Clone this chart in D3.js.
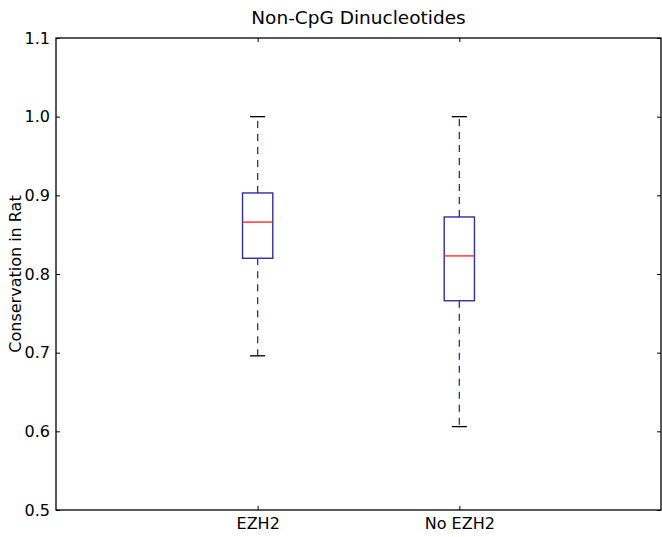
<!DOCTYPE html>
<html>
<head>
<meta charset="utf-8">
<script src="https://cdn.jsdelivr.net/npm/d3@7"></script>
<style>
  body { margin: 0; background: #fff; }
  text { font-family: "DejaVu Sans", sans-serif; fill: #000; }
</style>
</head>
<body>
<div id="chart"></div>
<script>
// data
let groups = ["EZH2", "No EZH2"];
let whiskerLow = [0.696, 0.606];
let q1 = [0.820, 0.766];
let median = [0.866, 0.823];
let q3 = [0.903, 0.8725];
let whiskerHigh = [1.0, 1.0];
let yTicks = [0.5, 0.6, 0.7, 0.8, 0.9, 1.0, 1.1];

let W = 662, H = 537;
let mLeft = 56, mRight = 661, mTop = 38, mBottom = 510;

let svg = d3.select("#chart").append("svg")
    .attr("width", W)
    .attr("height", H);

let x = d3.scaleLinear().domain([0, 3]).range([mLeft, mRight]);
let y = d3.scaleLinear().domain([0.5, 1.1]).range([mBottom, mTop]);

let boxW = x(0.15) - x(0);
let capW = boxW / 2;

// axes (ticks inward on all four sides)
let tickFmt = d3.format(".1f");
svg.append("g")
    .attr("transform", "translate(" + mLeft + ",0)")
    .call(d3.axisLeft(y).tickValues(yTicks).tickFormat(tickFmt).tickSizeInner(-4).tickSizeOuter(0).tickPadding(6))
    .call(g => g.select(".domain").remove());
svg.append("g")
    .attr("transform", "translate(" + mRight + ",0)")
    .call(d3.axisRight(y).tickValues(yTicks).tickFormat("").tickSizeInner(-4).tickSizeOuter(0))
    .call(g => g.select(".domain").remove());
svg.append("g")
    .attr("transform", "translate(0," + mBottom + ")")
    .call(d3.axisBottom(x).tickValues([1, 2]).tickFormat((d, i) => groups[i]).tickSizeInner(-4).tickSizeOuter(0).tickPadding(8))
    .call(g => g.select(".domain").remove());
svg.append("g")
    .attr("transform", "translate(0," + mTop + ")")
    .call(d3.axisTop(x).tickValues([1, 2]).tickFormat("").tickSizeInner(-4).tickSizeOuter(0))
    .call(g => g.select(".domain").remove());

svg.selectAll(".tick text").style("font-size", "16px").style("font-family", "DejaVu Sans");
svg.selectAll(".tick line").attr("stroke", "#000");

// boxes
let idx = d3.range(groups.length);
let bp = svg.append("g");

bp.selectAll(".whiskU").data(idx).enter().append("line")
    .attr("x1", i => x(i + 1)).attr("x2", i => x(i + 1))
    .attr("y1", i => y(q3[i])).attr("y2", i => y(whiskerHigh[i]))
    .attr("stroke", "#2e2e9e").attr("stroke-width", 1.3).attr("stroke-dasharray", "7,6");
bp.selectAll(".whiskL").data(idx).enter().append("line")
    .attr("x1", i => x(i + 1)).attr("x2", i => x(i + 1))
    .attr("y1", i => y(q1[i])).attr("y2", i => y(whiskerLow[i]))
    .attr("stroke", "#2e2e9e").attr("stroke-width", 1.3).attr("stroke-dasharray", "7,6");

bp.selectAll(".capU").data(idx).enter().append("line")
    .attr("x1", i => x(i + 1) - capW / 2).attr("x2", i => x(i + 1) + capW / 2)
    .attr("y1", i => y(whiskerHigh[i])).attr("y2", i => y(whiskerHigh[i]))
    .attr("stroke", "#000").attr("stroke-width", 1.3);
bp.selectAll(".capL").data(idx).enter().append("line")
    .attr("x1", i => x(i + 1) - capW / 2).attr("x2", i => x(i + 1) + capW / 2)
    .attr("y1", i => y(whiskerLow[i])).attr("y2", i => y(whiskerLow[i]))
    .attr("stroke", "#000").attr("stroke-width", 1.3);

bp.selectAll(".box").data(idx).enter().append("rect")
    .attr("x", i => x(i + 1) - boxW / 2)
    .attr("width", boxW)
    .attr("y", i => y(q3[i]))
    .attr("height", i => y(q1[i]) - y(q3[i]))
    .attr("fill", "none").attr("stroke", "#2e2e9e").attr("stroke-width", 1.4);

bp.selectAll(".med").data(idx).enter().append("line")
    .attr("x1", i => x(i + 1) - boxW / 2).attr("x2", i => x(i + 1) + boxW / 2)
    .attr("y1", i => y(median[i])).attr("y2", i => y(median[i]))
    .attr("stroke", "#ff2a2a").attr("stroke-width", 1.4);

// frame
svg.append("rect")
    .attr("x", mLeft).attr("y", mTop)
    .attr("width", mRight - mLeft).attr("height", mBottom - mTop)
    .attr("fill", "none").attr("stroke", "#000").attr("stroke-width", 1.3);

// title and label
svg.append("text")
    .attr("x", (mLeft + mRight) / 2).attr("y", 24)
    .attr("text-anchor", "middle")
    .style("font-size", "18.5px")
    .text("Non-CpG Dinucleotides");

svg.append("text")
    .attr("transform", "translate(21," + ((mTop + mBottom) / 2) + ") rotate(-90)")
    .attr("text-anchor", "middle")
    .style("font-size", "16px")
    .text("Conservation in Rat");
</script>
</body>
</html>
